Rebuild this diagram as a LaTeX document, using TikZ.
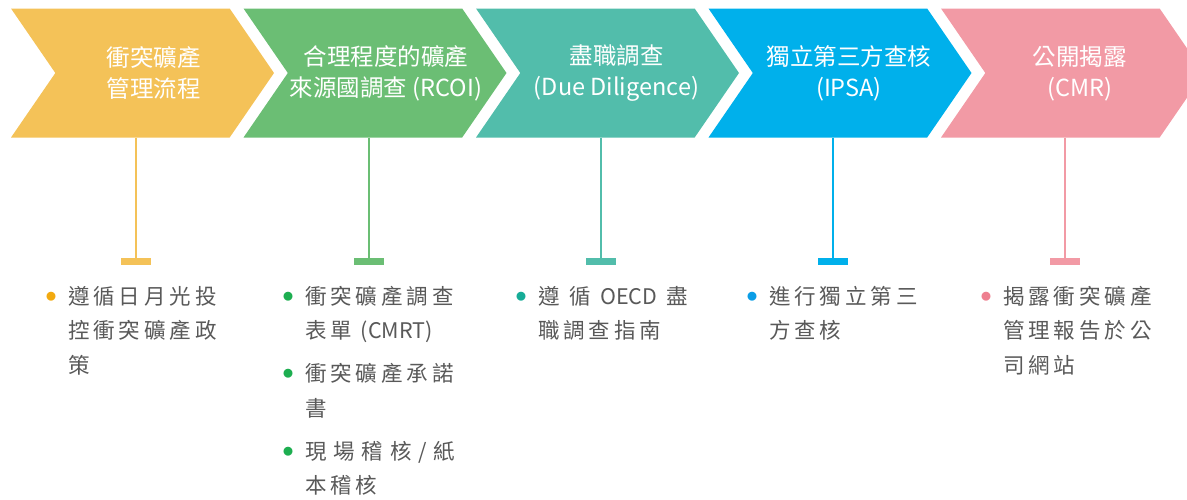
\documentclass[tikz,border=0pt]{standalone}
\usepackage{fontspec}
\setmainfont{Noto Sans CJK TC}
\newfontfamily\notefont[LetterSpace=18]{Noto Sans CJK TC}
\newfontfamily\notelatin{Noto Sans CJK TC}
\usetikzlibrary{shapes.symbols,positioning}

\definecolor{minegold}{HTML}{F4C258}
\definecolor{minegreen}{HTML}{6BBE74}
\definecolor{mineteal}{HTML}{52BDAB}
\definecolor{mineblue}{HTML}{00B0EB}
\definecolor{minepink}{HTML}{F29AA5}
\definecolor{dotgold}{HTML}{F2AA10}
\definecolor{dotgreen}{HTML}{1DAE50}
\definecolor{dotteal}{HTML}{16AC97}
\definecolor{dotblue}{HTML}{0A9DE6}
\definecolor{dotpink}{HTML}{EE7F8F}
\definecolor{notegray}{HTML}{595959}

\newcommand{\pip}[1]{\llap{\textcolor{#1}{\raisebox{4pt}{\notelatin\fontsize{10}{10}\selectfont ●}}\hspace{12pt}}}
\newcommand{\lat}[1]{{\notelatin #1}}

\begin{document}
\begin{tikzpicture}[x=1pt,y=1pt,
    chevron/.style={shape=signal,signal from=west,signal to=east,signal pointer angle=111,
                    minimum width=263pt,minimum height=129pt,inner sep=0pt,draw=none},
    title/.style={text=white,align=center,font=\fontsize{23.5}{31}\selectfont},
    stem/.style={line width=1.2pt},
    foot/.style={minimum width=30pt,minimum height=7pt,inner sep=0pt,draw=none},
    notes/.style={anchor=north west,align=left,inner sep=0pt,text=notegray,
                  font=\notefont\fontsize{21.5}{34.5}\selectfont}]

  \useasboundingbox (0,0) rectangle (1187,-499);

  % the five steps
  \node[chevron,fill=minegold]  (C1) at (142.5,-73) {};
  \node[chevron,fill=minegreen] (C2) at (375,-73) {};
  \node[chevron,fill=mineteal]  (C3) at (607.5,-73) {};
  \node[chevron,fill=mineblue]  (C4) at (840,-73) {};
  \node[chevron,fill=minepink]  (C5) at (1072.5,-73) {};

  \node[title] (T1) at ([xshift=11pt]C1.center) {衝突礦產\\管理流程};
  \node[title] (T2) at ([xshift=11pt]C2.center) {合理程度的礦產\\來源國調查 (RCOI)};
  \node[title] (T3) at ([xshift=9pt]C3.center)  {盡職調查\\(Due Diligence)};
  \node[title] (T4) at ([xshift=9pt]C4.center)  {獨立第三方查核\\(IPSA)};
  \node[title] (T5) at ([xshift=7pt]C5.center)  {公開揭露\\(CMR)};

  % feet under the steps
  \node[foot,fill=minegold]  (F1) at (136,-261.5) {};
  \node[foot,fill=minegreen] (F2) at (369,-261.5) {};
  \node[foot,fill=mineteal]  (F3) at (601,-261.5) {};
  \node[foot,fill=mineblue]  (F4) at (833,-261.5) {};
  \node[foot,fill=minepink]  (F5) at (1065,-261.5) {};

  \draw[stem,minegold]  (C1.south -| F1) -- (F1.north);
  \draw[stem,minegreen] (C2.south -| F2) -- (F2.north);
  \draw[stem,mineteal]  (C3.south -| F3) -- (F3.north);
  \draw[stem,mineblue]  (C4.south -| F4) -- (F4.north);
  \draw[stem,minepink]  (C5.south -| F5) -- (F5.north);

  % notes
  \node[notes] (N1) at (68,-286)
    {\pip{dotgold}遵循日月光投\\控衝突礦產政\\策};
  \node[notes] (N2) at (305,-286)
    {\pip{dotgreen}衝突礦產調查\\表單 \lat{(CMRT)}\\[8.5pt]
     \pip{dotgreen}衝突礦產承諾\\書\\[8.5pt]
     \pip{dotgreen}\makebox[150pt][s]{現 場 稽 核 / 紙}\\本稽核};
  \node[notes] (N3) at (538,-286)
    {\pip{dotteal}\makebox[150pt][s]{遵 循 \lat{OECD} 盡}\\職調查指南};
  \node[notes] (N4) at (769,-286)
    {\pip{dotblue}進行獨立第三\\方查核};
  \node[notes] (N5) at (1003,-286)
    {\pip{dotpink}揭露衝突礦產\\管理報告於公\\司網站};
\end{tikzpicture}
\end{document}
